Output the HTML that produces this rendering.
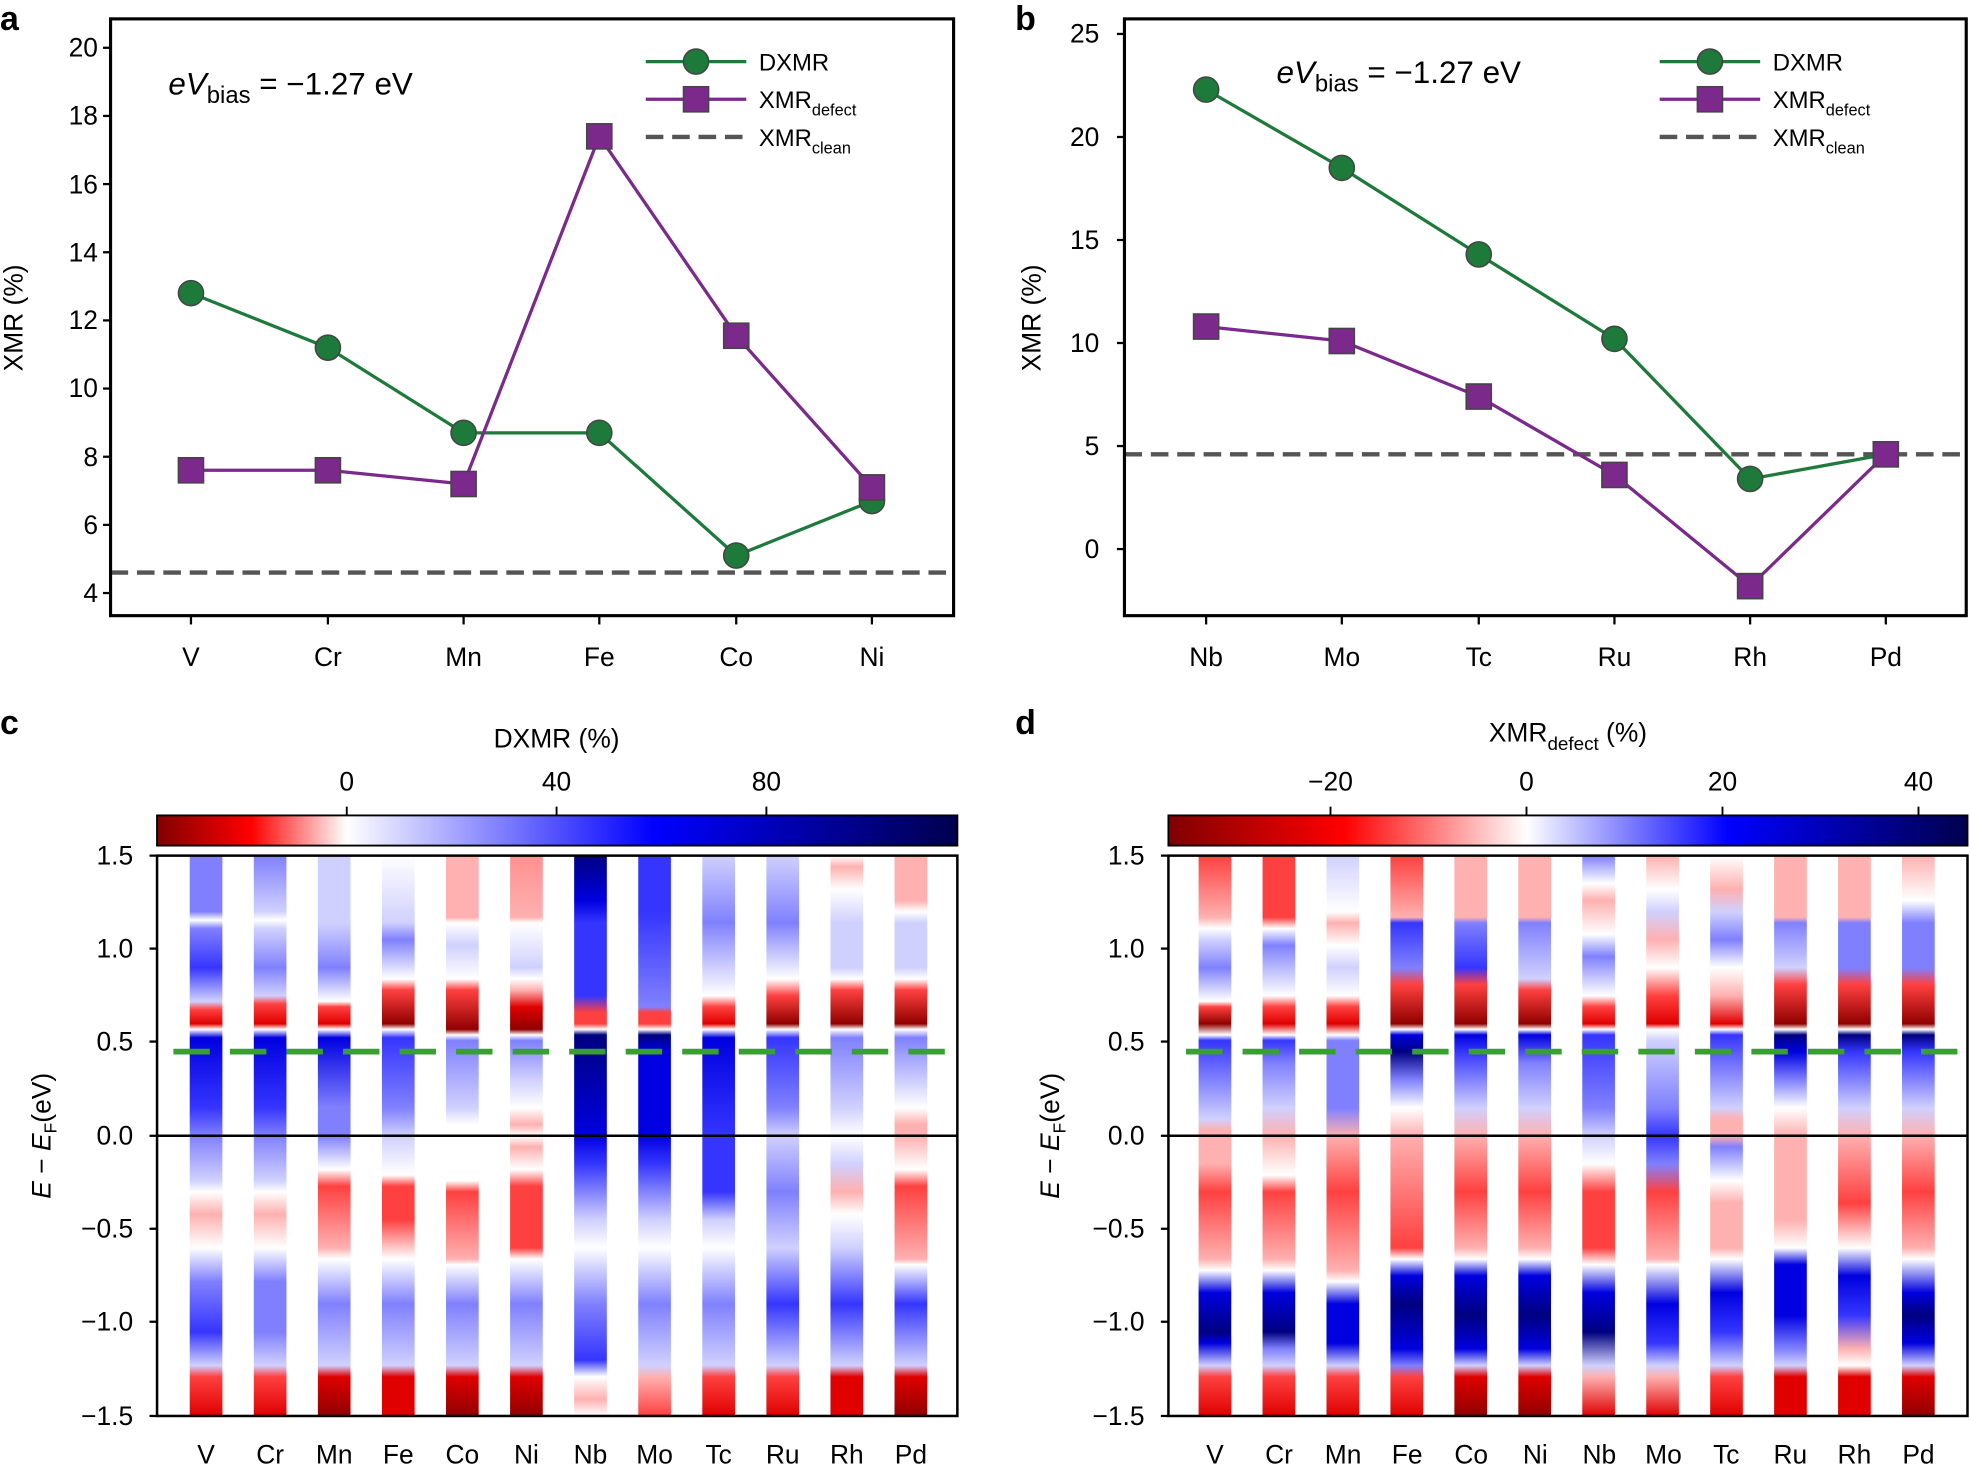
<!DOCTYPE html>
<html><head><meta charset="utf-8"><style>
html,body{margin:0;padding:0;background:#fff;}
svg{display:block;font-family:"Liberation Sans",sans-serif;}
</style></head><body>
<svg id="s" width="1970" height="1465" viewBox="0 0 1568 1166" xmlns="http://www.w3.org/2000/svg">
<defs id="defs">
<linearGradient id="cbc" x1="0" x2="1" y1="0" y2="0">
<stop offset="0" stop-color="#800000"/><stop offset="0.118" stop-color="#ff0000"/><stop offset="0.237" stop-color="#ffffff"/><stop offset="0.62" stop-color="#0000ff"/><stop offset="1" stop-color="#00004d"/></linearGradient>
<linearGradient id="cbd" x1="0" x2="1" y1="0" y2="0">
<stop offset="0" stop-color="#800000"/><stop offset="0.22" stop-color="#ff0000"/><stop offset="0.448" stop-color="#ffffff"/><stop offset="0.70" stop-color="#0000ff"/><stop offset="1" stop-color="#00004d"/></linearGradient>
</defs>
<rect width="1568" height="1166" fill="#fff"/>

<!-- panel labels -->
<g font-weight="bold" font-size="27">
<text x="0" y="24">a</text><text x="808" y="24">b</text><text x="0" y="584">c</text><text x="808" y="584">d</text>
</g>

<!-- ============ Panel a ============ -->
<g font-size="21" fill="#000">
<line x1="88" x2="759" y1="455.7" y2="455.7" stroke="#555" stroke-width="3.5" stroke-dasharray="14 7"/>
<polyline points="152,233.3 261,276.7 369,344.5 477,344.5 586,442.2 694,398.8" fill="none" stroke="#1e7a3a" stroke-width="2.6"/>
<polyline points="152,374.3 261,374.3 369,385.2 477,108.5 586,267.2 694,387.9" fill="none" stroke="#7b2a8c" stroke-width="2.6"/>
<g fill="#1e7a3a" stroke="#444" stroke-width="1.2">
<circle cx="152" cy="233.3" r="10"/><circle cx="261" cy="276.7" r="10"/><circle cx="369" cy="344.5" r="10"/><circle cx="477" cy="344.5" r="10"/><circle cx="586" cy="442.2" r="10"/><circle cx="694" cy="398.8" r="10"/></g>
<g fill="#7b2a8c" stroke="#444" stroke-width="1.2">
<rect x="142" y="364.3" width="20" height="20"/><rect x="251" y="364.3" width="20" height="20"/><rect x="359" y="375.2" width="20" height="20"/><rect x="467" y="98.5" width="20" height="20"/><rect x="576" y="257.2" width="20" height="20"/><rect x="684" y="377.9" width="20" height="20"/></g>
<rect x="88" y="15" width="671" height="475" fill="none" stroke="#000" stroke-width="2.5"/>
<g stroke="#000" stroke-width="1.8">
<line x1="82" x2="88" y1="38" y2="38"/><line x1="82" x2="88" y1="92.25" y2="92.25"/><line x1="82" x2="88" y1="146.5" y2="146.5"/><line x1="82" x2="88" y1="200.75" y2="200.75"/><line x1="82" x2="88" y1="255" y2="255"/><line x1="82" x2="88" y1="309.25" y2="309.25"/><line x1="82" x2="88" y1="363.5" y2="363.5"/><line x1="82" x2="88" y1="417.75" y2="417.75"/><line x1="82" x2="88" y1="472" y2="472"/>
<line x1="152" x2="152" y1="490" y2="497"/><line x1="261" x2="261" y1="490" y2="497"/><line x1="369" x2="369" y1="490" y2="497"/><line x1="477" x2="477" y1="490" y2="497"/><line x1="586" x2="586" y1="490" y2="497"/><line x1="694" x2="694" y1="490" y2="497"/>
</g>
<g text-anchor="end">
<text x="78" y="45">20</text><text x="78" y="99">18</text><text x="78" y="154">16</text><text x="78" y="208">14</text><text x="78" y="262">12</text><text x="78" y="316">10</text><text x="78" y="371">8</text><text x="78" y="425">6</text><text x="78" y="479">4</text></g>
<g text-anchor="middle">
<text x="152" y="530">V</text><text x="261" y="530">Cr</text><text x="369" y="530">Mn</text><text x="477" y="530">Fe</text><text x="586" y="530">Co</text><text x="694" y="530">Ni</text></g>
<text transform="translate(18,253) rotate(-90)" text-anchor="middle">XMR (%)</text>
<text x="134" y="75" font-size="25"><tspan font-style="italic">eV</tspan><tspan font-size="19" dy="7">bias</tspan><tspan dy="-7"> = −1.27 eV</tspan></text>
<line x1="514" x2="594" y1="49" y2="49" stroke="#1e7a3a" stroke-width="2.6"/><circle cx="554" cy="49" r="10" fill="#1e7a3a" stroke="#444" stroke-width="1.2"/>
<line x1="514" x2="594" y1="79" y2="79" stroke="#7b2a8c" stroke-width="2.6"/><rect x="544" y="69" width="20" height="20" fill="#7b2a8c" stroke="#444" stroke-width="1.2"/>
<line x1="514" x2="594" y1="109" y2="109" stroke="#555" stroke-width="3.5" stroke-dasharray="14 7"/>
<g font-size="19"><text x="604" y="56">DXMR</text><text x="604" y="86">XMR<tspan font-size="13" dy="6">defect</tspan></text><text x="604" y="116">XMR<tspan font-size="13" dy="6">clean</tspan></text></g>
</g>

<!-- ============ Panel b ============ -->
<g font-size="21" fill="#000">
<line x1="895" x2="1565" y1="361.6" y2="361.6" stroke="#555" stroke-width="3.5" stroke-dasharray="14 7"/>
<polyline points="960,71.3 1068,133.6 1177,202.5 1285,269.7 1393,381.2 1501,361.6" fill="none" stroke="#1e7a3a" stroke-width="2.6"/>
<polyline points="960,259.9 1068,271.4 1177,315.6 1285,378 1393,466.5 1501,361.6" fill="none" stroke="#7b2a8c" stroke-width="2.6"/>
<g fill="#1e7a3a" stroke="#444" stroke-width="1.2">
<circle cx="960" cy="71.3" r="10"/><circle cx="1068" cy="133.6" r="10"/><circle cx="1177" cy="202.5" r="10"/><circle cx="1285" cy="269.7" r="10"/><circle cx="1393" cy="381.2" r="10"/></g>
<g fill="#7b2a8c" stroke="#444" stroke-width="1.2">
<rect x="950" y="249.9" width="20" height="20"/><rect x="1058" y="261.4" width="20" height="20"/><rect x="1167" y="305.6" width="20" height="20"/><rect x="1275" y="368" width="20" height="20"/><rect x="1383" y="456.5" width="20" height="20"/><rect x="1491" y="351.6" width="20" height="20"/></g>
<rect x="895" y="15" width="670" height="475" fill="none" stroke="#000" stroke-width="2.5"/>
<g stroke="#000" stroke-width="1.8">
<line x1="889" x2="895" y1="27" y2="27"/><line x1="889" x2="895" y1="109" y2="109"/><line x1="889" x2="895" y1="191" y2="191"/><line x1="889" x2="895" y1="273" y2="273"/><line x1="889" x2="895" y1="355" y2="355"/><line x1="889" x2="895" y1="437" y2="437"/>
<line x1="960" x2="960" y1="490" y2="497"/><line x1="1068" x2="1068" y1="490" y2="497"/><line x1="1177" x2="1177" y1="490" y2="497"/><line x1="1285" x2="1285" y1="490" y2="497"/><line x1="1393" x2="1393" y1="490" y2="497"/><line x1="1501" x2="1501" y1="490" y2="497"/>
</g>
<g text-anchor="end">
<text x="875" y="34">25</text><text x="875" y="116">20</text><text x="875" y="198">15</text><text x="875" y="280">10</text><text x="875" y="362">5</text><text x="875" y="444">0</text></g>
<g text-anchor="middle">
<text x="960" y="530">Nb</text><text x="1068" y="530">Mo</text><text x="1177" y="530">Tc</text><text x="1285" y="530">Ru</text><text x="1393" y="530">Rh</text><text x="1501" y="530">Pd</text></g>
<text transform="translate(828,253) rotate(-90)" text-anchor="middle">XMR (%)</text>
<text x="1016" y="66" font-size="25"><tspan font-style="italic">eV</tspan><tspan font-size="19" dy="7">bias</tspan><tspan dy="-7"> = −1.27 eV</tspan></text>
<line x1="1321" x2="1401" y1="49" y2="49" stroke="#1e7a3a" stroke-width="2.6"/><circle cx="1361" cy="49" r="10" fill="#1e7a3a" stroke="#444" stroke-width="1.2"/>
<line x1="1321" x2="1401" y1="79" y2="79" stroke="#7b2a8c" stroke-width="2.6"/><rect x="1351" y="69" width="20" height="20" fill="#7b2a8c" stroke="#444" stroke-width="1.2"/>
<line x1="1321" x2="1401" y1="109" y2="109" stroke="#555" stroke-width="3.5" stroke-dasharray="14 7"/>
<g font-size="19"><text x="1411" y="56">DXMR</text><text x="1411" y="86">XMR<tspan font-size="13" dy="6">defect</tspan></text><text x="1411" y="116">XMR<tspan font-size="13" dy="6">clean</tspan></text></g>
</g>

<!-- ============ Panel c ============ -->
<g font-size="21" fill="#000">
<text x="443" y="595" text-anchor="middle">DXMR (%)</text>
<rect x="125" y="649" width="637" height="24" fill="url(#cbc)" stroke="#000" stroke-width="1.5"/>
<g stroke="#000" stroke-width="1.5"><line x1="276" x2="276" y1="642" y2="649"/><line x1="443" x2="443" y1="642" y2="649"/><line x1="610" x2="610" y1="642" y2="649"/></g>
<g text-anchor="middle"><text x="276" y="629">0</text><text x="443" y="629">40</text><text x="610" y="629">80</text></g>
<g id="colsC"></g>
<line x1="125" x2="762" y1="904" y2="904" stroke="#000" stroke-width="2"/>
<line x1="138" x2="762" y1="837" y2="837" stroke="#3a9e33" stroke-width="4.5" stroke-dasharray="29 16"/>
<rect x="125" y="681" width="637" height="446" fill="none" stroke="#000" stroke-width="2"/>
<g stroke="#000" stroke-width="1.8">
<line x1="119" x2="125" y1="681" y2="681"/><line x1="119" x2="125" y1="755" y2="755"/><line x1="119" x2="125" y1="829" y2="829"/><line x1="119" x2="125" y1="904" y2="904"/><line x1="119" x2="125" y1="978" y2="978"/><line x1="119" x2="125" y1="1052" y2="1052"/><line x1="119" x2="125" y1="1127" y2="1127"/>
</g>
<g text-anchor="end"><text x="106" y="688">1.5</text><text x="106" y="762">1.0</text><text x="106" y="836">0.5</text><text x="106" y="911">0.0</text><text x="106" y="985">−0.5</text><text x="106" y="1059">−1.0</text><text x="106" y="1134">−1.5</text></g>
<g text-anchor="middle" id="xlC"><text x="164" y="1165">V</text><text x="215" y="1165">Cr</text><text x="266" y="1165">Mn</text><text x="317" y="1165">Fe</text><text x="368" y="1165">Co</text><text x="419" y="1165">Ni</text><text x="470" y="1165">Nb</text><text x="521" y="1165">Mo</text><text x="572" y="1165">Tc</text><text x="623" y="1165">Ru</text><text x="674" y="1165">Rh</text><text x="725" y="1165">Pd</text></g>
<text transform="translate(40,904) rotate(-90)" text-anchor="middle"><tspan font-style="italic">E</tspan> − <tspan font-style="italic">E</tspan><tspan font-size="14" dy="5">F</tspan><tspan dy="-5">(eV)</tspan></text>
</g>

<!-- ============ Panel d ============ -->
<g font-size="21" fill="#000">
<text x="1248" y="590" text-anchor="middle">XMR<tspan font-size="15" dy="7">defect</tspan><tspan dy="-7"> (%)</tspan></text>
<rect x="930" y="649" width="636" height="24" fill="url(#cbd)" stroke="#000" stroke-width="1.5"/>
<g stroke="#000" stroke-width="1.5"><line x1="1059" x2="1059" y1="642" y2="649"/><line x1="1215" x2="1215" y1="642" y2="649"/><line x1="1371" x2="1371" y1="642" y2="649"/><line x1="1527" x2="1527" y1="642" y2="649"/></g>
<g text-anchor="middle"><text x="1059" y="629">−20</text><text x="1215" y="629">0</text><text x="1371" y="629">20</text><text x="1527" y="629">40</text></g>
<g id="colsD"></g>
<line x1="930" x2="1566" y1="904" y2="904" stroke="#000" stroke-width="2"/>
<line x1="944" x2="1566" y1="837" y2="837" stroke="#3a9e33" stroke-width="4.5" stroke-dasharray="29 16"/>
<rect x="930" y="681" width="636" height="446" fill="none" stroke="#000" stroke-width="2"/>
<g stroke="#000" stroke-width="1.8">
<line x1="924" x2="930" y1="681" y2="681"/><line x1="924" x2="930" y1="755" y2="755"/><line x1="924" x2="930" y1="829" y2="829"/><line x1="924" x2="930" y1="904" y2="904"/><line x1="924" x2="930" y1="978" y2="978"/><line x1="924" x2="930" y1="1052" y2="1052"/><line x1="924" x2="930" y1="1127" y2="1127"/>
</g>
<g text-anchor="end"><text x="911" y="688">1.5</text><text x="911" y="762">1.0</text><text x="911" y="836">0.5</text><text x="911" y="911">0.0</text><text x="911" y="985">−0.5</text><text x="911" y="1059">−1.0</text><text x="911" y="1134">−1.5</text></g>
<g text-anchor="middle"><text x="967" y="1165">V</text><text x="1018" y="1165">Cr</text><text x="1069" y="1165">Mn</text><text x="1120" y="1165">Fe</text><text x="1171" y="1165">Co</text><text x="1222" y="1165">Ni</text><text x="1273" y="1165">Nb</text><text x="1324" y="1165">Mo</text><text x="1374" y="1165">Tc</text><text x="1425" y="1165">Ru</text><text x="1476" y="1165">Rh</text><text x="1527" y="1165">Pd</text></g>
<text transform="translate(843,904) rotate(-90)" text-anchor="middle"><tspan font-style="italic">E</tspan> − <tspan font-style="italic">E</tspan><tspan font-size="14" dy="5">F</tspan><tspan dy="-5">(eV)</tspan></text>
</g>
</svg>
<script>
(function(){
var W="#ffffff",R1="#ffb0b0",R2="#ff4040",R3="#e00000",R4="#900000",B1="#d0d0ff",B2="#8080ff",B3="#3535ff",B4="#0000e0",B5="#000080";
var C=[
[[0,B2],[.1,B2],[.115,W],[.13,B2],[.2,B3],[.26,B1],[.275,R2],[.3,R3],[.31,W],[.325,B4],[.45,B3],[.5,B2],[.58,B1],[.6,W],[.64,R1],[.7,W],[.76,B2],[.85,B3],[.91,B1],[.93,R2],[1,R3]],
[[0,B2],[.1,B1],[.115,W],[.13,B1],[.2,B2],[.25,B1],[.265,R2],[.3,R3],[.31,W],[.325,B4],[.45,B3],[.5,B2],[.58,B1],[.6,W],[.64,R1],[.7,W],[.76,B2],[.85,B2],[.91,B1],[.93,R2],[1,R3]],
[[0,B1],[.12,B1],[.2,B2],[.26,W],[.27,R2],[.3,R3],[.31,W],[.325,B4],[.45,B2],[.5,B2],[.56,W],[.59,R2],[.7,R1],[.72,W],[.8,B2],[.91,B1],[.93,R3],[1,R4]],
[[0,W],[.12,B1],[.15,B2],[.22,W],[.24,R2],[.3,R4],[.31,W],[.325,B3],[.45,B2],[.5,B1],[.57,W],[.59,R2],[.65,R2],[.72,W],[.8,B2],[.91,B1],[.93,R3],[1,R3]],
[[0,R1],[.11,R1],[.12,W],[.16,B1],[.22,W],[.24,R2],[.31,R4],[.32,W],[.33,B2],[.45,B1],[.48,W],[.58,W],[.6,R2],[.72,R1],[.73,W],[.8,B2],[.91,B1],[.93,R3],[1,R4]],
[[0,"#ff9090"],[.11,R1],[.12,W],[.2,B1],[.22,W],[.24,R1],[.27,R3],[.31,R4],[.32,W],[.33,B2],[.4,B1],[.45,W],[.48,R1],[.5,W],[.52,R1],[.56,W],[.59,R2],[.7,R2],[.72,W],[.8,B2],[.91,B1],[.93,R3],[1,R4]],
[[0,B5],[.08,B4],[.12,B3],[.25,B3],[.28,R2],[.3,R2],[.31,W],[.32,B5],[.5,B4],[.55,B3],[.65,B1],[.7,W],[.8,B2],[.9,B3],[.93,W],[.97,R1],[1,W]],
[[0,B3],[.1,B3],[.27,B2],[.28,R2],[.3,R2],[.31,W],[.32,B5],[.35,B4],[.5,B4],[.55,B3],[.65,B1],[.7,W],[.8,B2],[.91,B1],[.93,R1],[1,R2]],
[[0,B1],[.12,B2],[.25,W],[.27,R2],[.3,R3],[.31,W],[.325,B4],[.5,B3],[.6,B3],[.65,B1],[.7,W],[.8,B2],[.91,B1],[.93,R2],[1,R3]],
[[0,B1],[.12,B2],[.22,W],[.25,R2],[.3,R4],[.31,W],[.325,B3],[.45,B2],[.5,B1],[.6,B2],[.7,B1],[.8,B3],[.91,B1],[.93,R2],[1,R3]],
[[0,W],[.02,R1],[.06,W],[.12,B1],[.2,B1],[.22,W],[.24,R2],[.3,R4],[.31,W],[.325,B2],[.45,B1],[.5,W],[.55,B1],[.6,R1],[.64,W],[.7,B1],[.8,B3],[.91,B1],[.93,R3],[1,R3]],
[[0,R1],[.08,R1],[.1,W],[.12,B1],[.2,B1],[.22,W],[.24,R2],[.3,R4],[.31,W],[.325,B2],[.45,W],[.48,R1],[.5,R1],[.56,W],[.59,R2],[.72,R1],[.73,W],[.8,B3],[.91,B1],[.93,R3],[1,R4]]];
var D=[
[[0,R2],[.11,R1],[.13,W],[.15,B1],[.2,B2],[.26,W],[.27,R2],[.3,R4],[.32,W],[.33,B3],[.4,B2],[.47,B1],[.49,R1],[.55,R1],[.6,R2],[.72,R1],[.74,W],[.78,B4],[.85,B5],[.87,B4],[.91,B1],[.93,R2],[1,R3]],
[[0,R2],[.11,R2],[.13,W],[.16,B2],[.25,W],[.27,R2],[.3,R3],[.32,W],[.33,B3],[.37,B2],[.45,B1],[.5,R1],[.57,W],[.6,R2],[.72,R1],[.74,W],[.78,B4],[.85,B5],[.88,B2],[.91,B1],[.93,R2],[1,R3]],
[[0,B1],[.1,W],[.12,R1],[.16,W],[.2,B1],[.25,W],[.27,R2],[.3,R3],[.32,W],[.33,B2],[.45,B2],[.5,R1],[.6,R2],[.74,R1],[.76,W],[.8,B4],[.87,B4],[.91,B1],[.93,R2],[1,R3]],
[[0,R2],[.11,R1],[.12,B3],[.2,B2],[.23,R2],[.3,R4],[.31,W],[.32,B4],[.35,B5],[.4,B2],[.45,W],[.5,R1],[.7,R2],[.72,W],[.75,B4],[.8,B5],[.88,B4],[.91,B2],[.93,R2],[1,R3]],
[[0,R1],[.11,R1],[.12,B2],[.2,B3],[.23,R2],[.3,R4],[.31,W],[.32,B4],[.35,B3],[.45,B1],[.5,R1],[.6,R2],[.7,R1],[.72,W],[.75,B4],[.82,B5],[.88,B4],[.91,B1],[.93,R3],[1,R4]],
[[0,R1],[.11,R1],[.12,B2],[.22,B1],[.24,R2],[.3,R4],[.31,W],[.32,B4],[.37,B2],[.45,B1],[.5,R1],[.6,R2],[.7,R1],[.72,W],[.75,B4],[.82,B5],[.88,B4],[.91,B1],[.93,R3],[1,R4]],
[[0,B2],[.05,W],[.08,R1],[.14,W],[.18,B2],[.25,W],[.27,R2],[.3,R3],[.31,W],[.32,B3],[.45,B2],[.5,B1],[.55,W],[.6,R2],[.7,R2],[.73,W],[.78,B4],[.85,B5],[.91,B1],[.93,R1],[1,R3]],
[[0,R1],[.06,W],[.1,B1],[.15,R1],[.2,W],[.25,R2],[.3,R3],[.31,W],[.33,B1],[.45,B2],[.5,B3],[.55,B2],[.6,R2],[.72,R1],[.73,W],[.8,B4],[.87,B3],[.91,B1],[.93,R1],[1,R3]],
[[0,W],[.06,R1],[.1,B1],[.15,B2],[.2,W],[.25,R1],[.3,R3],[.31,W],[.32,B3],[.45,B1],[.47,R1],[.5,R1],[.52,B2],[.58,W],[.62,R1],[.7,R1],[.72,W],[.78,B4],[.85,B3],[.91,B1],[.93,R2],[1,R3]],
[[0,R1],[.11,R1],[.12,B2],[.2,B1],[.23,R2],[.3,R4],[.31,W],[.32,B5],[.35,B4],[.4,B2],[.45,W],[.5,R1],[.65,R1],[.7,W],[.73,B4],[.82,B4],[.88,B2],[.91,B1],[.93,R3],[1,R3]],
[[0,R1],[.11,R1],[.12,B2],[.2,B2],[.23,R2],[.3,R4],[.31,W],[.32,B5],[.35,B3],[.45,B1],[.5,R1],[.62,R2],[.7,W],[.75,B4],[.82,B3],[.88,R1],[.91,W],[.93,R3],[1,R3]],
[[0,R1],[.08,W],[.12,B2],[.2,B2],[.23,R2],[.3,R4],[.31,W],[.32,B5],[.35,B3],[.45,B1],[.5,R1],[.6,R2],[.7,R1],[.72,W],[.78,B4],[.82,B5],[.87,B4],[.91,B1],[.93,R3],[1,R4]]];
var NS="http://www.w3.org/2000/svg",defs=document.getElementById("defs");
function build(arr,gid,x0,dx,pre){
 var g=document.getElementById(gid);
 arr.forEach(function(stops,i){
  var lg=document.createElementNS(NS,"linearGradient");
  lg.setAttribute("id",pre+i);lg.setAttribute("x1","0");lg.setAttribute("x2","0");lg.setAttribute("y1","0");lg.setAttribute("y2","1");
  stops.forEach(function(s){var st=document.createElementNS(NS,"stop");st.setAttribute("offset",s[0]);st.setAttribute("stop-color",s[1]);lg.appendChild(st);});
  defs.appendChild(lg);
  var r=document.createElementNS(NS,"rect");
  r.setAttribute("x",x0+i*dx-13);r.setAttribute("y",681);r.setAttribute("width",26);r.setAttribute("height",446);
  r.setAttribute("fill","url(#"+pre+i+")");g.appendChild(r);
 });
}
build(C,"colsC",164,51,"gc");
build(D,"colsD",967,50.9,"gd");
})();
</script>
</body></html>
